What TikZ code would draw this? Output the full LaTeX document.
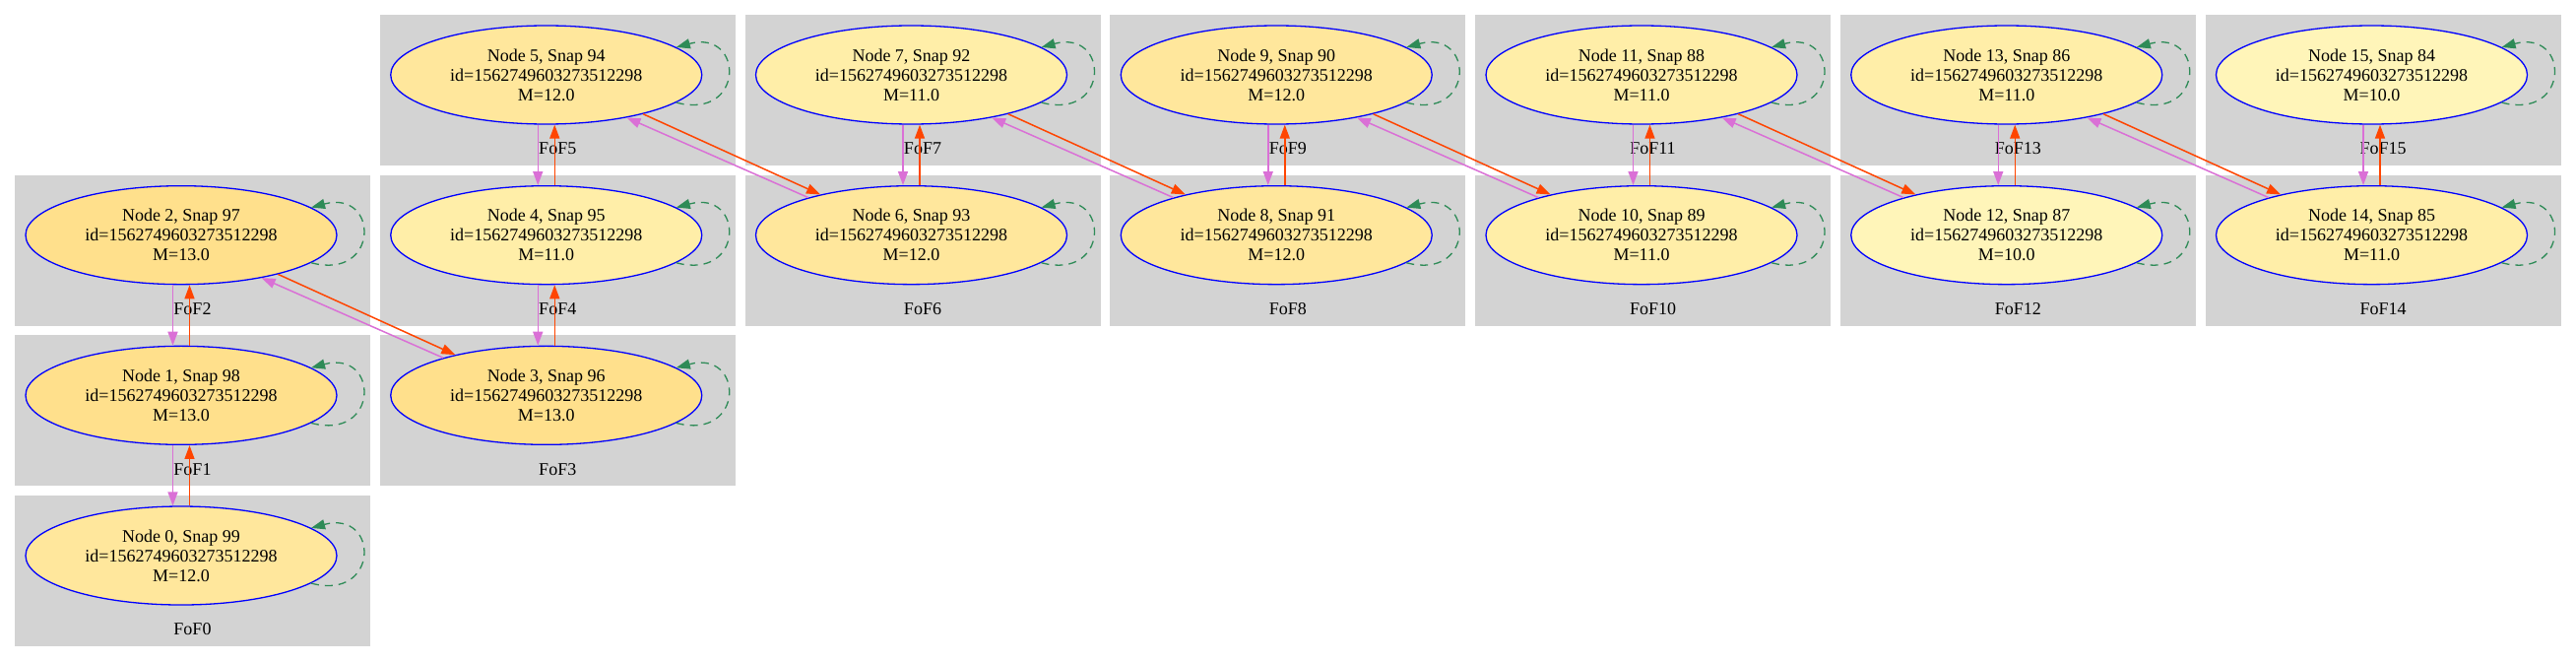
\documentclass[tikz,border=0pt]{standalone}
\usepackage{fontspec}
\setmainfont{Liberation Serif}
\usetikzlibrary{arrows.meta,shapes.geometric}
\definecolor{boxgray}{RGB}{211,211,211}
\definecolor{orangered}{RGB}{255,69,0}
\definecolor{orchidc}{RGB}{218,112,214}
\definecolor{seagreenc}{RGB}{46,139,87}
\definecolor{mthirteen}{HTML}{FFE08C}
\definecolor{mtwelve}{HTML}{FFE79C}
\definecolor{meleven}{HTML}{FFEEA8}
\definecolor{mten}{HTML}{FFF5B9}
\tikzset{
  fofbox/.style={fill=boxgray, draw=none},
  foflabel/.style={font={\fontsize{18pt}{20pt}\selectfont}, inner sep=0pt},
  snapnode/.style={ellipse, draw=blue, line width=1.3pt, minimum width=316pt,
    minimum height=100pt, inner sep=0pt, align=center,
    font={\fontsize{18pt}{20pt}\selectfont}},
  progedge/.style={draw=orangered, line width=1.5pt, -{Triangle[length=14pt,width=10pt]}},
  descedge/.style={draw=orchidc, line width=1.5pt, -{Triangle[length=14pt,width=10pt]}},
  selfloop/.style={draw=seagreenc, line width=1.3pt, dash pattern=on 8pt off 6pt,
    -{Triangle[length=14pt,width=10pt]}}
}
\begin{document}
\begin{tikzpicture}[x=1pt,y=-1pt]
\useasboundingbox (0,0) rectangle (2616,672);
\foreach \k/\c/\r/\snap/\m/\col in {
  0/0/3/99/12.0/mtwelve, 1/0/2/98/13.0/mthirteen, 2/0/1/97/13.0/mthirteen,
  3/1/2/96/13.0/mthirteen, 4/1/1/95/11.0/meleven, 5/1/0/94/12.0/mtwelve,
  6/2/1/93/12.0/mtwelve, 7/2/0/92/11.0/meleven, 8/3/1/91/12.0/mtwelve,
  9/3/0/90/12.0/mtwelve, 10/4/1/89/11.0/meleven, 11/4/0/88/11.0/meleven,
  12/5/1/87/10.0/mten, 13/5/0/86/11.0/meleven, 14/6/1/85/11.0/meleven,
  15/6/0/84/10.0/mten}{
  \pgfmathsetmacro\L{15+370.75*\c}
  \pgfmathsetmacro\T{15+162.67*\r}
  \fill[fofbox] (\L,\T) rectangle ++(361,153);
  \node[foflabel] (lab\k) at (\L+180.5,\T+136) {FoF\k};
  \node[snapnode, fill=\col] (n\k) at (\L+169,\T+61)
    {Node \k, Snap \snap\\id=1562749603273512298\\M=\m};
}
% self loops
\foreach \k in {0,...,15}{
  \draw[selfloop] (n\k.-12.8) .. controls +(-15:72pt) and +(15:72pt) .. (n\k.12.8);
}
% vertical pairs (lower a, upper b)
\foreach \a/\b in {0/1,1/2,3/4,4/5,6/7,8/9,10/11,12/13,14/15}{
  \draw[descedge] ([xshift=-8.5pt]n\b.south) -- ([xshift=-8.5pt]n\a.north);
  \draw[progedge] ([xshift=8.5pt]n\a.north) -- ([xshift=8.5pt]n\b.south);
}
% diagonal pairs (upper-left a, lower-right b)
\foreach \a/\b in {2/3,5/6,7/8,9/10,11/12,13/14}{
  \draw[progedge] (n\a.-22.6) -- (n\b.156);
  \draw[descedge] (n\b.160) -- (n\a.-28.3);
}
\end{tikzpicture}
\end{document}
